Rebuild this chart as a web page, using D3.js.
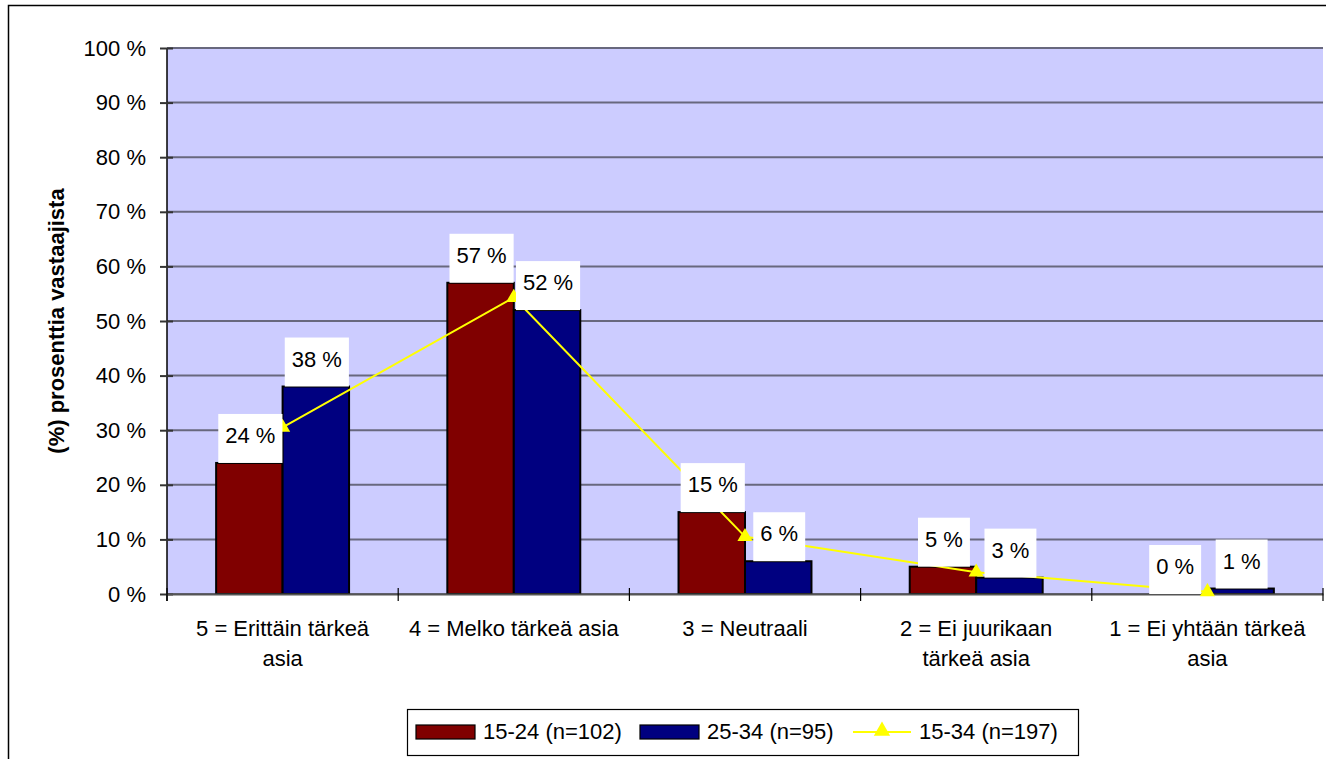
<!DOCTYPE html>
<html>
<head>
<meta charset="utf-8">
<script src="https://cdn.jsdelivr.net/npm/d3@7"></script>
<style>
  html, body { margin: 0; padding: 0; background: #ffffff; }
  svg { display: block; font-family: "Liberation Sans", Arial, sans-serif; }
</style>
</head>
<body>
<svg id="chart" width="1326" height="759"></svg>
<script>
// ---- data ----
const categories = [
  "5 = Erittäin tärkeä\nasia",
  "4 = Melko tärkeä asia",
  "3 = Neutraali",
  "2 = Ei juurikaan\ntärkeä asia",
  "1 = Ei yhtään tärkeä\nasia"
];
const seriesNames = ["15-24 (n=102)", "25-34 (n=95)", "15-34 (n=197)"];
const values1524 = [24, 57, 15, 5, 0];
const values2534 = [38, 52, 6, 3, 1];
const values1534 = [30.5, 54.3, 10.5, 4, 0.4];
const yTicks = [0, 10, 20, 30, 40, 50, 60, 70, 80, 90, 100];
const yTitle = "(%) prosenttia vastaajista";

// ---- styles ----
const barColors = ["#800000", "#000080"];
const lineColor = "#FFFF00";
const fontSize = 22;

const svg = d3.select("#chart");

const plot = { left: 167, right: 1323, top: 48, bottom: 594 };

const x = d3.scaleBand().domain(categories).range([plot.left, plot.right]).paddingInner(0).paddingOuter(0);
const y = d3.scaleLinear().domain([0, 100]).range([plot.bottom, plot.top]);
const barW = x.bandwidth() * 0.2875;
const xs = d3.scaleBand().domain([0, 1]).range([-barW, barW]);

// outer frame
svg.append("rect")
  .attr("x", 8.5).attr("y", 5.5).attr("width", 1340).attr("height", 780)
  .attr("fill", "#ffffff").attr("stroke", "#000").attr("stroke-width", 1.5);

// plot background
svg.append("rect")
  .attr("x", plot.left).attr("y", plot.top)
  .attr("width", plot.right - plot.left).attr("height", plot.bottom - plot.top)
  .attr("fill", "#CCCCFF");

// gridlines
svg.append("g").selectAll("line").data(yTicks).join("line")
  .attr("x1", plot.left).attr("x2", plot.right)
  .attr("y1", d => y(d)).attr("y2", d => y(d))
  .attr("stroke", "#68687e").attr("stroke-width", 2);

// bars
const series = [values1524, values2534];
series.forEach((vals, si) => {
  svg.append("g").selectAll("rect").data(vals).join("rect")
    .attr("x", (d, i) => x(categories[i]) + x.bandwidth() / 2 + xs(si))
    .attr("y", d => y(d))
    .attr("width", xs.bandwidth())
    .attr("height", d => y(0) - y(d))
    .attr("fill", barColors[si])
    .attr("stroke", "#000").attr("stroke-width", 2);
});

// y axis
const yAxis = d3.axisLeft(y).tickValues(yTicks).tickFormat(d => d + " %").tickSize(7).tickPadding(14);
const gy = svg.append("g").attr("transform", `translate(${plot.left},0)`).call(yAxis);
gy.select(".domain").attr("stroke", "#000").attr("stroke-width", 1.5).attr("d", `M0,${plot.top}V${plot.bottom + 7}`);
gy.selectAll(".tick line").attr("x1", 6).attr("stroke", "#333").attr("stroke-width", 2);
gy.selectAll(".tick text").attr("font-size", fontSize).attr("fill", "#000")
  .attr("font-family", "'Liberation Sans', Arial, sans-serif");

// x axis
const xAxis = d3.axisBottom(x).tickSize(0).tickFormat("");
const gx = svg.append("g").attr("transform", `translate(0,${plot.bottom})`).call(xAxis);
gx.select(".domain").attr("stroke", "#555").attr("stroke-width", 2);
const bounds = categories.map(c => x(c)).concat([plot.right]);
svg.append("g").selectAll("line").data(bounds).join("line")
  .attr("x1", d => d).attr("x2", d => d)
  .attr("y1", plot.bottom - 6).attr("y2", plot.bottom + 7)
  .attr("stroke", "#000").attr("stroke-width", 1.2);

// category labels
const catG = svg.append("g");
categories.forEach(c => {
  const t = catG.append("text")
    .attr("x", x(c) + x.bandwidth() / 2)
    .attr("y", 636)
    .attr("text-anchor", "middle")
    .attr("font-size", fontSize).attr("fill", "#000");
  c.split("\n").forEach((line, li) => {
    t.append("tspan").attr("x", x(c) + x.bandwidth() / 2).attr("y", 636 + li * 30).text(line);
  });
});

// y title
svg.append("text")
  .attr("transform", `translate(64,${(plot.top + plot.bottom) / 2}) rotate(-90)`)
  .attr("text-anchor", "middle")
  .attr("font-size", fontSize).attr("font-weight", "bold").attr("fill", "#000")
  .text(yTitle);

// line series
const cx = i => x(categories[i]) + x.bandwidth() / 2;
const lineGen = d3.line().x((d, i) => cx(i)).y(d => y(d));
svg.append("path").datum(values1534)
  .attr("d", lineGen).attr("fill", "none")
  .attr("stroke", lineColor).attr("stroke-width", 2);
const tri = d3.symbol(d3.symbolTriangle).size(100);
svg.append("g").selectAll("path").data(values1534).join("path")
  .attr("d", tri)
  .attr("transform", (d, i) => `translate(${cx(i)},${y(d)})`)
  .attr("fill", lineColor);

// data labels
series.forEach((vals, si) => {
  vals.forEach((v, i) => {
    const bx = x(categories[i]) + x.bandwidth() / 2 + xs(si) + xs.bandwidth() / 2 + 1;
    const g = svg.append("g");
    const rect = g.append("rect").attr("fill", "#fff");
    const txt = g.append("text")
      .attr("x", bx).attr("y", y(v) - 49 + 29)
      .attr("text-anchor", "middle")
      .attr("font-size", fontSize).attr("fill", "#000")
      .text(Math.round(v) + " %");
    const w = txt.node().getComputedTextLength() + 14;
    rect.attr("x", bx - w / 2).attr("y", y(v) - 49).attr("width", w).attr("height", 49);
  });
});

// legend
const lg = svg.append("g");
lg.append("rect").attr("x", 407.5).attr("y", 709.5).attr("width", 671).attr("height", 46)
  .attr("fill", "#fff").attr("stroke", "#000").attr("stroke-width", 1.2);
const legendItems = [
  { name: seriesNames[0], type: "bar", color: barColors[0], sx: 416, tx: 483 },
  { name: seriesNames[1], type: "bar", color: barColors[1], sx: 640, tx: 707 },
  { name: seriesNames[2], type: "line", color: lineColor, sx: 853, tx: 919 }
];
legendItems.forEach(it => {
  if (it.type === "bar") {
    lg.append("rect").attr("x", it.sx).attr("y", 725).attr("width", 59).attr("height", 14)
      .attr("fill", it.color).attr("stroke", "#000").attr("stroke-width", 1.2);
  } else {
    lg.append("line").attr("x1", it.sx).attr("x2", it.sx + 58).attr("y1", 732).attr("y2", 732)
      .attr("stroke", it.color).attr("stroke-width", 2);
    lg.append("path").attr("d", d3.symbol(d3.symbolTriangle).size(115))
      .attr("transform", `translate(${it.sx + 29},731)`).attr("fill", it.color);
  }
  lg.append("text").attr("x", it.tx).attr("y", 739).attr("font-size", fontSize).attr("fill", "#000").text(it.name);
});
</script>
</body>
</html>
